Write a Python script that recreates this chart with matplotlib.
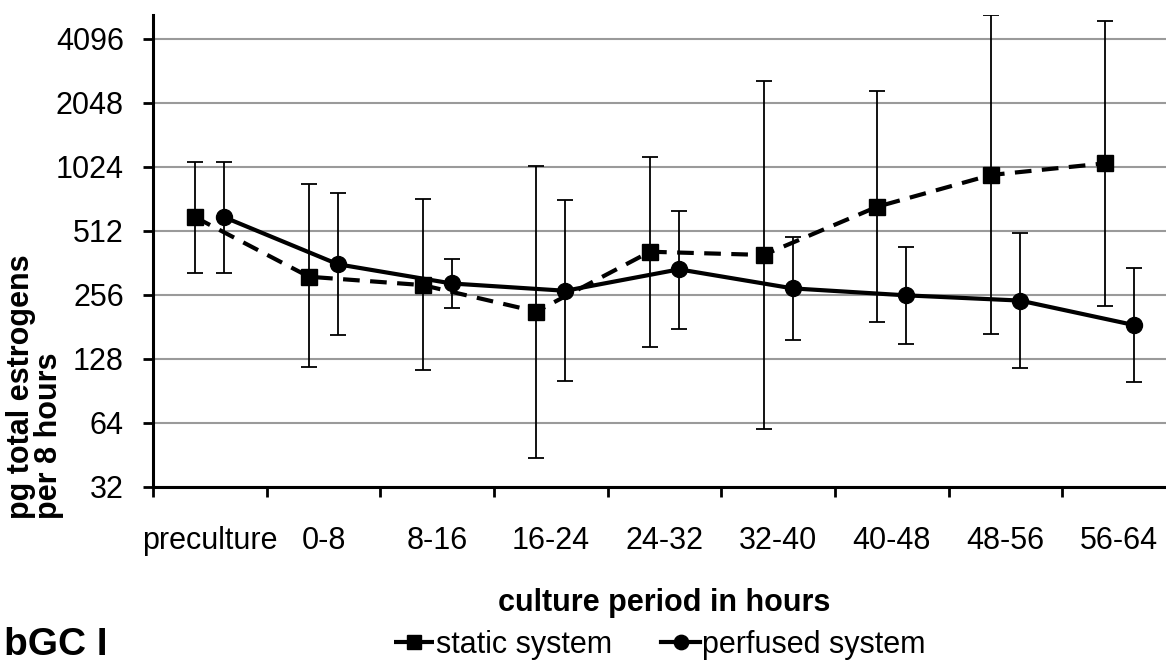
import numpy as np
import matplotlib
matplotlib.use("Agg")
import matplotlib.pyplot as plt

plt.rcParams["font.family"] = ["Liberation Sans", "DejaVu Sans"]

periods = ["preculture", "0-8", "8-16", "16-24", "24-32", "32-40", "40-48", "48-56", "56-64"]

# static system (squares, dashed)
static_mean = [594, 312, 285, 214, 409, 395, 666, 939, 1065]
static_low = [326, 118, 114, 44, 145, 60, 192, 167, 227]
static_high = [1077, 851, 724, 1035, 1145, 2608, 2324, 5311, 4994]

# perfused system (circles, solid)
perfused_mean = [594, 357, 290, 268, 338, 275, 255, 241, 185]
perfused_low = [326, 166, 222, 101, 178, 157, 151, 116, 100]
perfused_high = [1077, 770, 377, 716, 638, 481, 430, 499, 344]

yticks = [32, 64, 128, 256, 512, 1024, 2048, 4096]

W, H = 1166, 665
fig = plt.figure(figsize=(W / 100, H / 100), dpi=100)
ax = fig.add_axes([153 / W, 1 - 487 / H, (1176 - 153) / W, (487 - 15) / H])

x = np.arange(len(periods))
off = 0.128

s_mean = np.array(static_mean)
p_mean = np.array(perfused_mean)
s_err = [s_mean - np.array(static_low), np.array(static_high) - s_mean]
p_err = [p_mean - np.array(perfused_low), np.array(perfused_high) - p_mean]

ax.errorbar(x - off, s_mean, yerr=s_err, fmt="none", ecolor="black",
            elinewidth=1.3, capsize=5.5, capthick=1.3, zorder=3)
ax.errorbar(x + off, p_mean, yerr=p_err, fmt="none", ecolor="black",
            elinewidth=1.3, capsize=5.5, capthick=1.3, zorder=3)
ax.plot(x - off, s_mean, color="black", lw=3, ls=(0, (4, 2.5)), marker="s",
        ms=11.5, label="static system", zorder=4)
ax.plot(x + off, p_mean, color="black", lw=3, ls="-", marker="o",
        ms=11.5, label="perfused system", zorder=4)

ax.set_yscale("log", base=2)
ax.set_ylim(32, 4096 * 2 ** (24 / 64))
ax.set_yticks(yticks)
ax.set_yticklabels([str(v) for v in yticks])
ax.minorticks_off()
ax.yaxis.grid(True, color="#9a9a9a", lw=1.5)
ax.set_axisbelow(True)

ax.set_xlim(-0.5, len(periods) - 0.5)
ax.set_xticks(x)
ax.set_xticklabels(periods)
ax.set_xticks(np.arange(len(periods) + 1) - 0.5, minor=True)
ax.tick_params(axis="x", which="major", length=0, labelsize=22, pad=28)
ax.tick_params(axis="x", which="minor", length=7, width=2, direction="out")
ax.tick_params(axis="y", which="major", length=7, width=2, labelsize=22, pad=14)

for side in ["top", "right"]:
    ax.spines[side].set_visible(False)
for side in ["left", "bottom"]:
    ax.spines[side].set_linewidth(2.2)

ax.set_xlabel("culture period in hours", fontsize=22, fontweight="bold", labelpad=23)

fig.text(35 / W, 1 - 387 / H, "pg total estrogens\nper 8 hours", rotation=90,
         ha="center", va="center", multialignment="left", fontsize=22,
         fontweight="bold", linespacing=0.95)
fig.text(4 / W, 1 - 645 / H, "bGC I", ha="left", va="center", fontsize=28,
         fontweight="bold")

fig.legend(loc="center", bbox_to_anchor=(660 / W, 1 - 645 / H), ncol=2,
           frameon=False, fontsize=22, handlelength=1.3, handletextpad=0.05,
           columnspacing=1.6, markerscale=0.9)

fig.savefig("out.png", dpi=100)
